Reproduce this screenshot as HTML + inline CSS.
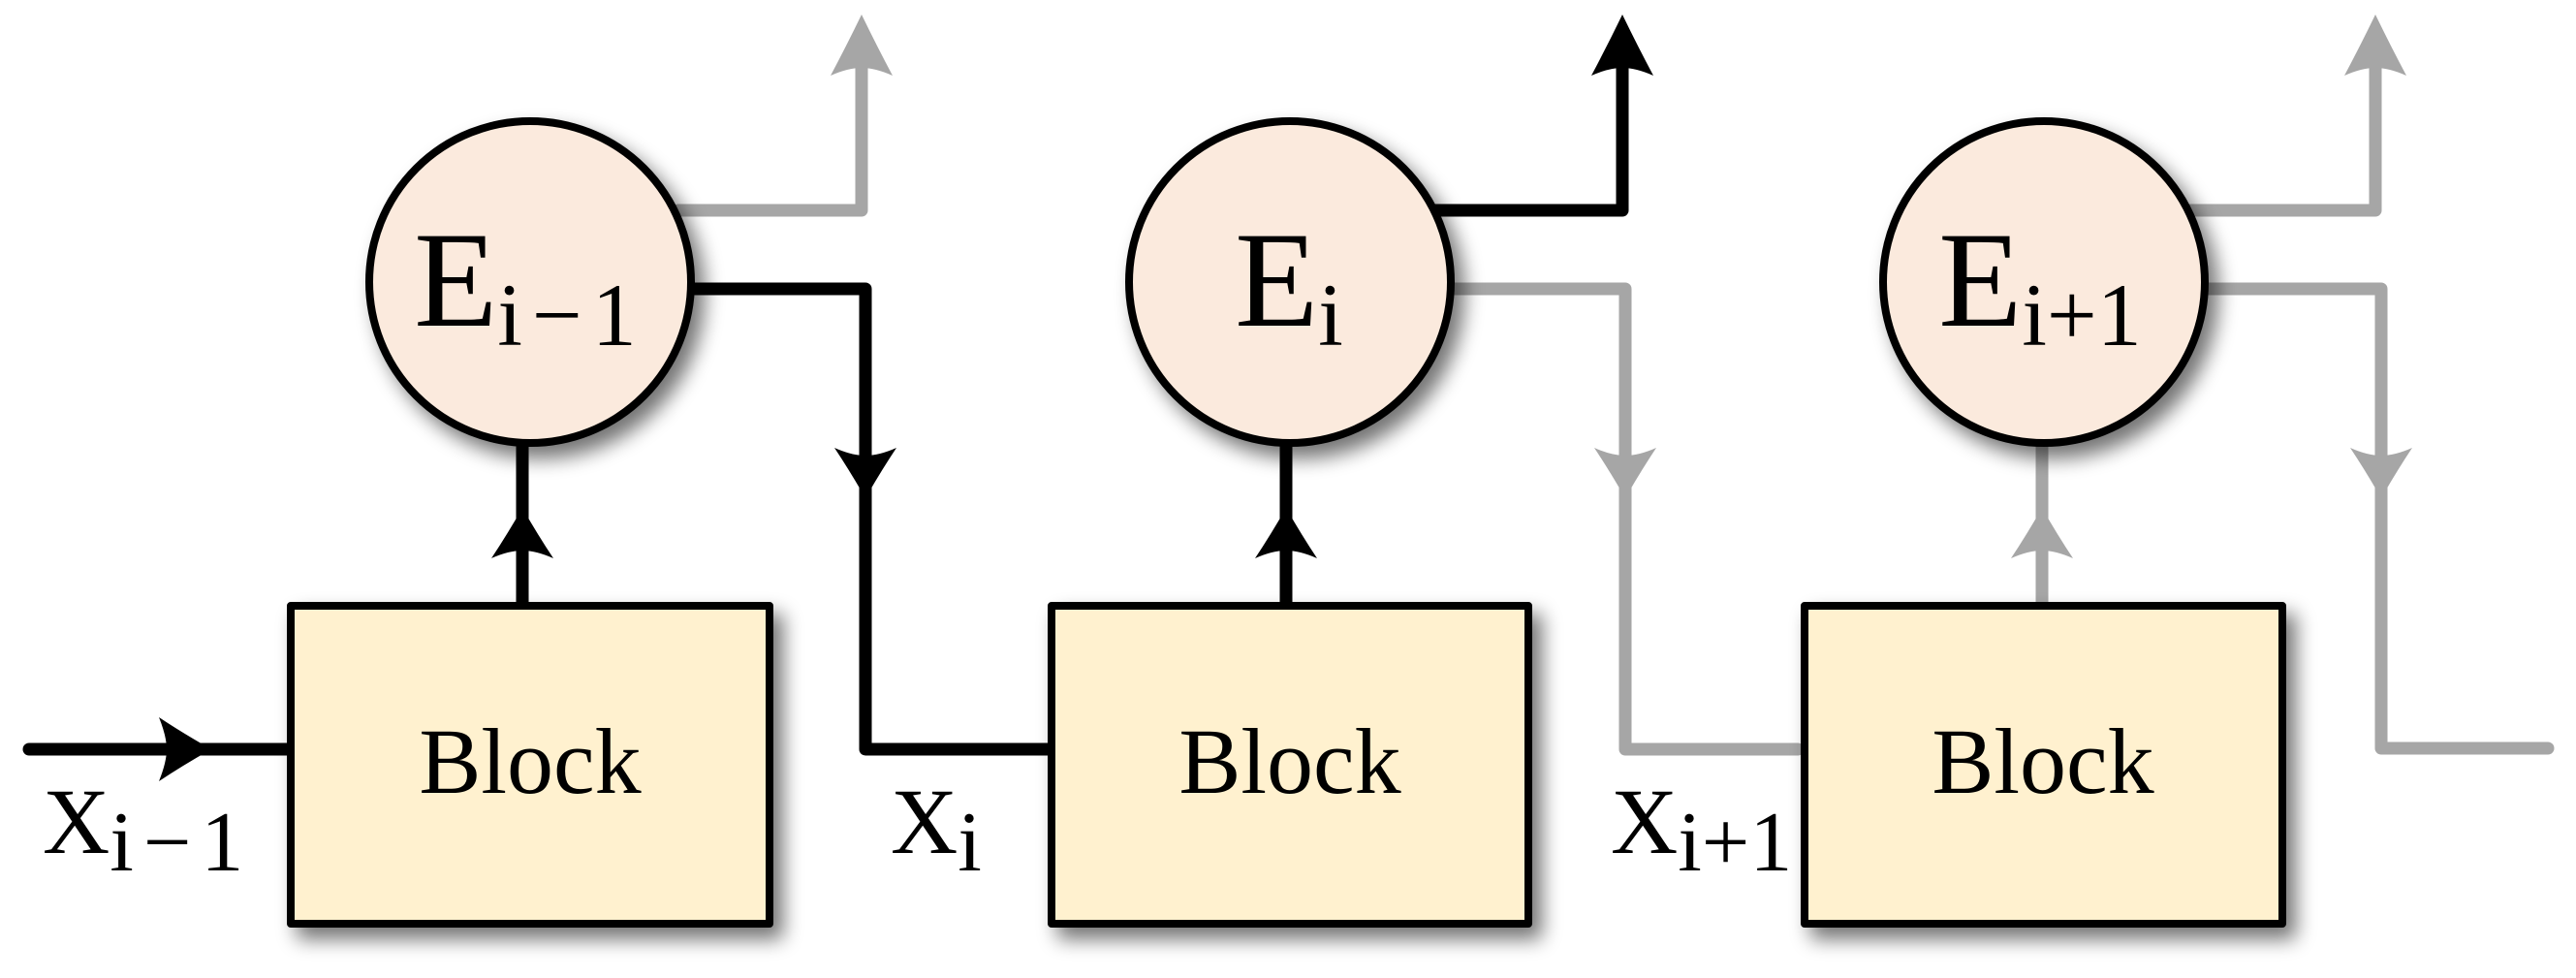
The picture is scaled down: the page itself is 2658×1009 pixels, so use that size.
<!DOCTYPE html>
<html><head><meta charset="utf-8"><style>
html,body{margin:0;padding:0;background:#fff;}
svg{display:block;}
text{font-family:"Liberation Serif",serif;fill:#000;}
</style></head><body>
<svg width="2658" height="1009" viewBox="0 0 2658 1009" xmlns="http://www.w3.org/2000/svg">
<defs>
<filter id="sh" x="-20%" y="-20%" width="150%" height="150%">
<feGaussianBlur in="SourceAlpha" stdDeviation="10"/>
<feOffset dx="10" dy="12" result="b"/>
<feComponentTransfer><feFuncA type="linear" slope="0.55"/></feComponentTransfer>
<feMerge><feMergeNode/><feMergeNode in="SourceGraphic"/></feMerge>
</filter>
</defs>
<g fill="none" stroke-width="13" stroke-linejoin="round" stroke-linecap="round">
<path d="M30 773 H300" stroke="#000"/>
<path d="M700 217 H889 V40" stroke="#a6a6a6"/>
<path d="M705 298 H893 V773 H1083" stroke="#000"/>
<path d="M539 623 V455" stroke="#000"/>
<path d="M1480 217 H1674 V40" stroke="#000"/>
<path d="M1490 298 H1677 V773 H1855" stroke="#a6a6a6"/>
<path d="M1327 623 V455" stroke="#000"/>
<path d="M2260 217 H2451 V40" stroke="#a6a6a6"/>
<path d="M2270 298 H2457 V772 H2629" stroke="#a6a6a6"/>
<path d="M2107 623 V455" stroke="#a6a6a6"/>
</g>
<g>
<path d="M218 773 Q188 756 164 740 Q172 760 172 773 Q172 786 164 806 Q188 790 218 773 Z" fill="#000"/>
<path d="M889 15 Q873 48 857 78 Q875 70 889 70 Q903 70 921 78 Q905 48 889 15 Z" fill="#a6a6a6"/>
<path d="M1674 15 Q1658 48 1642 78 Q1660 70 1674 70 Q1688 70 1706 78 Q1690 48 1674 15 Z" fill="#000"/>
<path d="M2451 15 Q2435 48 2419 78 Q2437 70 2451 70 Q2465 70 2483 78 Q2467 48 2451 15 Z" fill="#a6a6a6"/>
<path d="M539 524 Q523 552 507 576 Q525 568 539 568 Q553 568 571 576 Q555 552 539 524 Z" fill="#000"/>
<path d="M1327 524 Q1311 552 1295 576 Q1313 568 1327 568 Q1341 568 1359 576 Q1343 552 1327 524 Z" fill="#000"/>
<path d="M2107 524 Q2091 552 2075 576 Q2093 568 2107 568 Q2121 568 2139 576 Q2123 552 2107 524 Z" fill="#a6a6a6"/>
<path d="M893 514 Q877 486 861 462 Q879 470 893 470 Q907 470 925 462 Q909 486 893 514 Z" fill="#000"/>
<path d="M1677 514 Q1661 486 1645 462 Q1663 470 1677 470 Q1691 470 1709 462 Q1693 486 1677 514 Z" fill="#a6a6a6"/>
<path d="M2457 514 Q2441 486 2425 462 Q2443 470 2457 470 Q2471 470 2489 462 Q2473 486 2457 514 Z" fill="#a6a6a6"/>
</g>
<g stroke="#000" stroke-width="8" fill="#fbeadd" filter="url(#sh)">
<circle cx="547" cy="291" r="166"/>
<circle cx="1331" cy="291" r="166"/>
<circle cx="2109" cy="291" r="166"/>
</g>
<g stroke="#000" stroke-width="8" fill="#fff1cf" stroke-linejoin="round" filter="url(#sh)">
<rect x="300" y="625" width="494" height="328"/>
<rect x="1085" y="625" width="492" height="328"/>
<rect x="1862" y="625" width="493" height="328"/>
</g>
<text x="542" y="336" font-size="141" text-anchor="middle">E<tspan font-size="92" dy="20">i</tspan><tspan font-size="92" dx="10">−</tspan><tspan font-size="92" dx="10">1</tspan></text>
<text x="1330" y="336" font-size="141" text-anchor="middle">E<tspan font-size="92" dy="20">i</tspan></text>
<text x="2105" y="336" font-size="141" text-anchor="middle">E<tspan font-size="92" dy="20">i+1</tspan></text>
<text x="547" y="818" font-size="96" text-anchor="middle">Block</text>
<text x="1331" y="818" font-size="96" text-anchor="middle">Block</text>
<text x="2108" y="818" font-size="96" text-anchor="middle">Block</text>
<text x="44" y="880" font-size="96">X<tspan font-size="88" dy="18">i</tspan><tspan font-size="88" dx="10">−</tspan><tspan font-size="88" dx="10">1</tspan></text>
<text x="919" y="880" font-size="96">X<tspan font-size="88" dy="18">i</tspan></text>
<text x="1662" y="880" font-size="96">X<tspan font-size="88" dy="18">i+1</tspan></text>
</svg>
</body></html>
